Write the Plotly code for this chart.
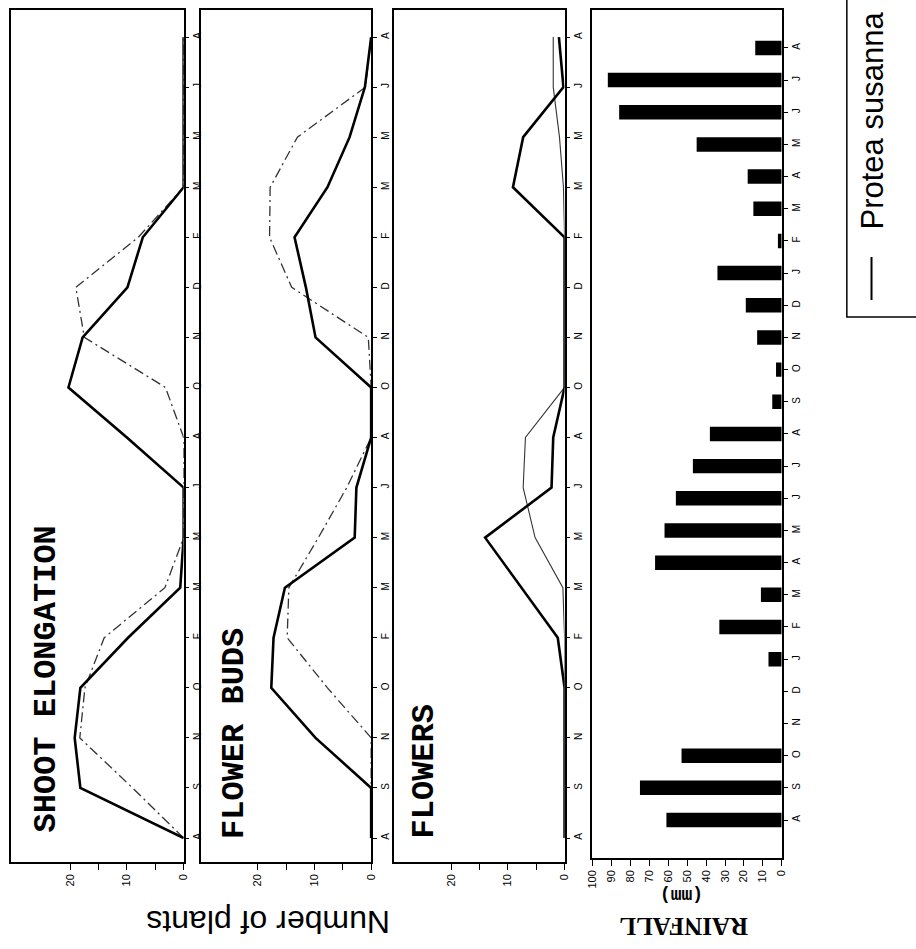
import plotly.graph_objects as go

W, H = 916, 949

# ---- data (sample order = bottom to top of the rotated figure) ----
sample_months = ["A", "S", "N", "O", "F", "M", "M", "J", "A", "O", "N", "D", "F", "M", "M", "J", "A"]

shoot_susanna = [0, 18.2, 19.2, 18.2, 9.8, 0.6, 0, 0, 10, 20.3, 17.8, 9.9, 7.2, 0, 0, 0, 0]
shoot_other = [0, 9, 18.3, 17.4, 14, 3.3, 0, 0, 0, 3.2, 17.5, 19, 8, 0, 0, 0, 0]

buds_susanna = [0, 0, 9.8, 17.6, 17.2, 15.2, 2.9, 2.6, 0, 0, 9.8, 11.5, 13.5, 7.7, 3.8, 1.1, 0]
buds_other = [0, 0, 0, 7.7, 14.8, 14.5, 9.3, 4.3, 0, 0, 0.5, 14, 17.9, 17.8, 13, 1, 0]

flowers_susanna = [0, 0, 0, 0, 1.2, 7.6, 14, 2.3, 2, 0, 0, 0, 0, 9.1, 7.3, 0.2, 1]
flowers_other = [0, 0, 0, 0, 0, 0.3, 5.2, 7.3, 6.9, 0, 0, 0, 0, 0.2, 0.9, 2, 2]

rain_months = ["A", "S", "O", "N", "D", "J", "F", "M", "A", "M", "J", "J", "A",
               "S", "O", "N", "D", "J", "F", "M", "A", "M", "J", "J", "A"]
rainfall_mm = [61, 75, 53, 0, 0, 7, 33, 11, 67, 62, 56, 47, 38,
               5, 3, 13, 19, 34, 2, 15, 18, 45, 86, 92, 14]

plant_ticks = [0, 5, 10, 15, 20]
plant_ticklabels = ["0", "", "10", "", "20"]
rain_ticks = [0, 10, 20, 30, 40, 50, 60, 70, 80, 90, 100]
rain_ticklabels = ["0", "10", "20", "30", "40", "50", "60", "70", "80", "90", "100"]

panel_titles = ["SHOOT ELONGATION", "FLOWER BUDS", "FLOWERS"]

# ---- layout helpers ----
def px_x(p):
    return p / W

def px_y(p):
    return 1 - p / H

sidx = list(range(len(sample_months)))
ridx = list(range(len(rain_months)))

fig = go.Figure()

thick = dict(color="black", width=2.6)
thin_dd = dict(color="#333333", width=1.3, dash="10px,4px,2px,4px")
thin_solid = dict(color="#333333", width=1.1)

series = [(shoot_susanna, shoot_other, thin_dd),
          (buds_susanna, buds_other, thin_dd),
          (flowers_susanna, flowers_other, thin_solid)]
for k, (a, b, tl) in enumerate(series):
    xa = "x" if k == 0 else f"x{k+1}"
    ya = "y" if k == 0 else f"y{k+1}"
    fig.add_trace(go.Scatter(x=b, y=sidx, xaxis=xa, yaxis=ya, mode="lines", line=tl,
                             showlegend=False, cliponaxis=False))
    fig.add_trace(go.Scatter(x=a, y=sidx, xaxis=xa, yaxis=ya, mode="lines", line=thick,
                             showlegend=False, cliponaxis=False))

fig.add_trace(go.Bar(x=rainfall_mm, y=ridx, orientation="h", xaxis="x4", yaxis="y4",
                     marker=dict(color="black", line=dict(width=0)), width=0.45, showlegend=False))

tickfont_v = dict(family="Liberation Sans", size=11, color="black")
tickfont_m = dict(family="Liberation Sans", size=10, color="black")

# panel geometry in pixels: (left, right, top, bottom)
panels = [(5, 180, 10, 862), (198, 370, 10, 862), (393, 566, 10, 862), (594, 786, 10, 858)]

layout_axes = {}
for k, (l, r, t, b) in enumerate(panels):
    xn = "xaxis" if k == 0 else f"xaxis{k+1}"
    yn = "yaxis" if k == 0 else f"yaxis{k+1}"
    ya_ref = "y" if k == 0 else f"y{k+1}"
    xa_ref = "x" if k == 0 else f"x{k+1}"
    if k < 3:
        xr = [(r - l) / 5.75, 0]
        tv, tt = plant_ticks, plant_ticklabels
        y_first, step = 838, 50.06
        ytv, ytt = sidx, sample_months
    else:
        xr = [(r - l) / 1.915, 0]
        tv, tt = rain_ticks, rain_ticklabels
        y_first, step = 820, 32.17
        ytv, ytt = ridx, rain_months
    yr = [-(b - y_first) / step, (y_first - t) / step]
    layout_axes[xn] = dict(domain=[px_x(l), px_x(r)], range=xr, anchor=ya_ref,
                           showline=True, mirror=True, linecolor="black", linewidth=1.6,
                           ticks="outside", ticklen=6, tickwidth=1.3, tickcolor="black",
                           tickvals=tv, ticktext=tt, tickangle=-90, tickfont=tickfont_v,
                           showgrid=False, zeroline=False, fixedrange=True)
    layout_axes[yn] = dict(domain=[px_y(b), px_y(t)], range=yr, anchor=xa_ref, side="right",
                           showline=True, mirror=True, linecolor="black", linewidth=1.6,
                           ticks="outside", ticklen=4, tickwidth=1.3, tickcolor="black",
                           tickvals=ytv, ticktext=ytt, tickangle=-90, tickfont=tickfont_m,
                           showgrid=False, zeroline=False, fixedrange=True)

annotations = []
title_pos = [(41, 679), (231, 733), (424, 771)]
for txt, (cx, cy) in zip(panel_titles, title_pos):
    annotations.append(dict(text=f"<b>{txt}</b>", x=px_x(cx), y=px_y(cy), xref="paper", yref="paper",
                            showarrow=False, textangle=-90, xanchor="center", yanchor="middle",
                            font=dict(family="Liberation Mono", size=32, color="black")))

annotations.append(dict(text="Number of plants", x=px_x(266), y=px_y(922), xref="paper", yref="paper",
                        showarrow=False, textangle=180, xanchor="center", yanchor="middle",
                        font=dict(family="Liberation Sans", size=32, color="black")))
annotations.append(dict(text="<b>RAINFALL</b>", x=px_x(687), y=px_y(927), xref="paper", yref="paper",
                        showarrow=False, textangle=180, xanchor="center", yanchor="middle",
                        font=dict(family="Liberation Serif", size=25, color="black")))
annotations.append(dict(text="<b>(mm)</b>", x=px_x(685), y=px_y(895), xref="paper", yref="paper",
                        showarrow=False, textangle=180, xanchor="center", yanchor="middle",
                        font=dict(family="Liberation Mono", size=18, color="black")))
annotations.append(dict(text="Protea susanna", x=px_x(877), y=px_y(121), xref="paper", yref="paper",
                        showarrow=False, textangle=-90, xanchor="center", yanchor="middle",
                        font=dict(family="Liberation Sans", size=31, color="black")))

shapes = [
    dict(type="rect", xref="paper", yref="paper", x0=px_x(852), x1=px_x(940), y0=px_y(317), y1=px_y(-10),
         line=dict(color="black", width=1.5), fillcolor="rgba(0,0,0,0)"),
    dict(type="line", xref="paper", yref="paper", x0=px_x(877), x1=px_x(877), y0=px_y(300), y1=px_y(257),
         line=dict(color="black", width=2)),
]

fig.update_layout(width=W, height=H, margin=dict(l=0, r=0, t=0, b=0),
                  paper_bgcolor="white", plot_bgcolor="white",
                  showlegend=False, annotations=annotations, shapes=shapes,
                  bargap=0.5, **layout_axes)

fig.write_html("out.html", config={"displayModeBar": False},
               post_script="document.body.style.margin='0';document.body.style.overflow='hidden';")
